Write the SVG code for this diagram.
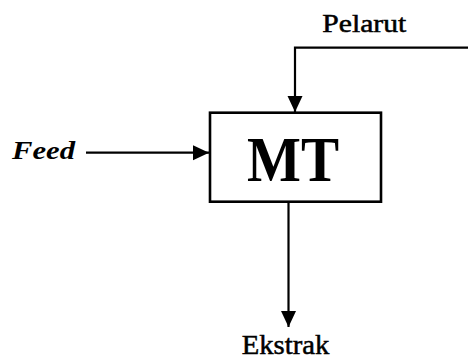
<svg xmlns="http://www.w3.org/2000/svg" width="468" height="361" viewBox="0 0 468 361">
<style>
.ln{fill:none;stroke:#000;stroke-width:2.2}
.box{fill:#fff;stroke:#000;stroke-width:2.6}
.t{font-family:"Liberation Serif","Times New Roman",serif;fill:#000}
.heavy{stroke:#000;stroke-width:0.5}
</style>
<defs>
<marker id="ah" markerUnits="userSpaceOnUse" markerWidth="16" markerHeight="16" viewBox="0 0 16 16" refX="16" refY="8" orient="auto">
<path d="M0,0.5 L16,8 L0,15.5 Z" fill="#000"/>
</marker>
</defs>
<rect width="468" height="361" fill="#fff"/>
<g id="connectors">
<path class="ln" d="M468,47.7 H295 V112" marker-end="url(#ah)"/>
<path class="ln" d="M86,152.7 H209" marker-end="url(#ah)"/>
<path class="ln" d="M288.5,202 V327" marker-end="url(#ah)"/>
</g>
<g id="MT">
<rect class="box" x="210" y="112.7" width="171" height="89"/>
<text class="t" x="247" y="181" font-size="64" font-weight="bold" textLength="92" lengthAdjust="spacingAndGlyphs">MT</text>
</g>
<g id="Feed">
<text class="t" x="12" y="159" font-size="25" font-weight="bold" font-style="italic" textLength="63" lengthAdjust="spacingAndGlyphs">Feed</text>
</g>
<g id="Pelarut">
<text class="t heavy" x="322.3" y="32.3" font-size="25" textLength="84" lengthAdjust="spacingAndGlyphs">Pelarut</text>
</g>
<g id="Ekstrak">
<text class="t heavy" x="241.7" y="354.3" font-size="28" textLength="87.6" lengthAdjust="spacingAndGlyphs">Ekstrak</text>
</g>
</svg>
